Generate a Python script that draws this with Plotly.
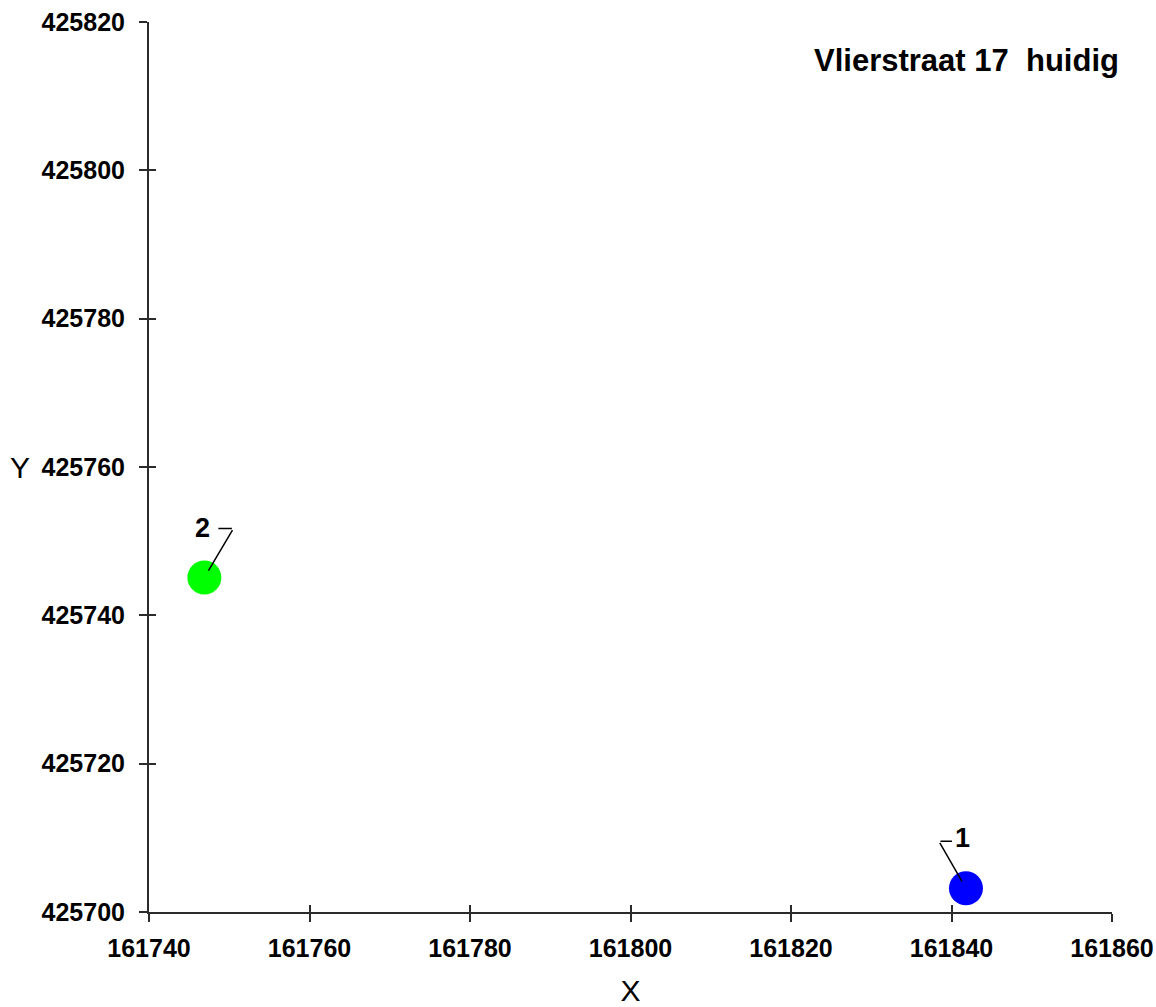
import plotly.graph_objects as go

# ---- data ----
point_ids = ["1", "2"]
x_vals = [161841.8, 161746.9]
y_vals = [425703.2, 425745.1]
point_colors = ["#0000ff", "#00ff00"]
x_ticks = [161740, 161760, 161780, 161800, 161820, 161840, 161860]
y_ticks = [425700, 425720, 425740, 425760, 425780, 425800, 425820]
title_text = "Vlierstraat 17\u00a0\u00a0huidig"

FONT = "Liberation Sans, Arial, sans-serif"
AX = "#2b2b2b"

fig = go.Figure()
fig.add_trace(go.Scatter(
    x=x_vals, y=y_vals, mode="markers",
    marker=dict(size=34, color=point_colors, line=dict(width=0)),
    showlegend=False, hoverinfo="x+y",
))
# invisible trace to activate overlay axes (for crossing ticks)
fig.add_trace(go.Scatter(
    x=x_vals, y=y_vals, mode="markers", xaxis="x2", yaxis="y2",
    marker=dict(size=1, opacity=0), showlegend=False, hoverinfo="skip",
))

xr = [x_ticks[0], x_ticks[-1]]
yr = [y_ticks[0], y_ticks[-1]]

common = dict(showgrid=False, zeroline=False, tickwidth=2, tickcolor=AX, automargin=False)
fig.update_layout(
    width=1156, height=1007,
    margin=dict(l=149, r=44, t=22, b=95, autoexpand=False),
    paper_bgcolor="white", plot_bgcolor="white",
    xaxis=dict(range=xr, tickvals=x_ticks, ticktext=[str(v) for v in x_ticks],
               showline=True, linecolor=AX, linewidth=2, ticks="outside", ticklen=8,
               tickfont=dict(family=FONT, size=25, color="black", weight="bold"),
               ticklabelstandoff=5,
               title=dict(text="X", font=dict(family=FONT, size=30, color="black"), standoff=19),
               **common),
    yaxis=dict(range=yr, tickvals=y_ticks, ticktext=[str(v) for v in y_ticks],
               showline=True, linecolor=AX, linewidth=2, ticks="outside", ticklen=8,
               tickfont=dict(family=FONT, size=25, color="black", weight="bold"),
               ticklabelstandoff=9,
               **common),
    xaxis2=dict(range=xr, tickvals=x_ticks, overlaying="x", anchor="y", side="bottom",
                ticks="inside", ticklen=7, showticklabels=False, showline=False, **common),
    yaxis2=dict(range=yr, tickvals=y_ticks, overlaying="y", anchor="x", side="left",
                ticks="inside", ticklen=7, showticklabels=False, showline=False, **common),
)

# title and Y axis label
fig.add_annotation(text=title_text, xref="paper", yref="paper", x=1.009, y=0.957,
                   xanchor="right", yanchor="middle", showarrow=False,
                   font=dict(family=FONT, size=31, color="black", weight="bold"))
fig.add_annotation(text="Y", xref="paper", yref="paper", x=-0.134, y=0.5,
                   xanchor="center", yanchor="middle", showarrow=False,
                   font=dict(family=FONT, size=30, color="black"))

# point labels with leader lines (offsets in pixels relative to each point)
label_style = {
    "1": dict(tx=-3, ty=-50, cx=-27, cy=-47, hlen=13),
    "2": dict(tx=-2, ty=-50, cx=29, cy=-49, hlen=-15),
}
for pid, px, py in zip(point_ids, x_vals, y_vals):
    s = label_style[pid]
    # label text
    fig.add_annotation(x=px, y=py, text=pid, showarrow=False,
                       xshift=s["tx"], yshift=-s["ty"],
                       font=dict(family=FONT, size=27, color="black", weight="bold"))
    # diagonal leader from corner to point
    fig.add_annotation(x=px, y=py, text="", showarrow=True, arrowhead=0,
                       arrowwidth=1.5, arrowcolor="black", standoff=8,
                       ax=s["cx"], ay=s["cy"])
    # short horizontal segment at the corner
    fig.add_annotation(x=px, y=py, text="", showarrow=True, arrowhead=0,
                       arrowwidth=1.5, arrowcolor="black", standoff=0,
                       xshift=s["cx"] + s["hlen"], yshift=-s["cy"],
                       ax=-s["hlen"], ay=0)

fig.write_html("out.html", config={"displayModeBar": False},
               post_script="document.body.style.margin='0';document.body.style.overflow='hidden';")
